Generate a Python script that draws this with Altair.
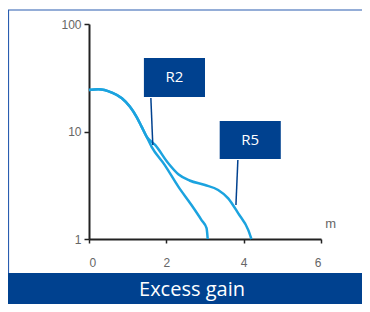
import altair as alt
import pandas as pd

# Curve data (distance m, excess gain)
r2_x = [0.0, 0.24, 0.59, 0.85, 1.06, 1.23, 1.36, 1.49, 1.62, 1.96, 2.31, 2.65, 2.91, 3.04, 3.07]
r2_y = [24.3, 24.7, 23.0, 20.4, 17.0, 13.7, 11.1, 8.95, 7.2, 4.87, 3.07, 2.07, 1.50, 1.26, 1.0]
r5_x = [0.0, 0.24, 0.59, 0.85, 1.06, 1.23, 1.36, 1.49, 1.71, 2.05, 2.31, 2.6, 3.0, 3.34, 3.6, 3.86, 4.12, 4.2]
r5_y = [24.3, 24.7, 23.0, 20.4, 17.0, 13.7, 11.1, 8.95, 7.5, 5.06, 4.0, 3.5, 3.18, 2.86, 2.39, 1.73, 1.21, 1.0]

labels = ["R2", "R5"]
box_x = [1.42, 3.38]
box_x2 = [3.0, 4.96]
box_y = [48.3, 12.5]
box_y2 = [20.9, 5.55]
lbl_x = [2.21, 4.17]
lbl_y = [31.8, 8.34]
lead_x = [1.6, 3.85]
lead_y = [20.5, 5.43]
lead_x2 = [1.65, 3.8]
lead_y2 = [7.5, 2.07]

x_ticks = [0, 2, 4, 6]
y_ticks = [1, 10, 100]
title_text = "Excess gain"
unit_text = "m"

CURVE = "#1ba3df"
DARK = "#00418f"
FRAME = "#2a5db0"

curves = pd.DataFrame(
    {"x": r2_x + r5_x, "y": r2_y + r5_y,
     "s": ["R2"] * len(r2_x) + ["R5"] * len(r5_x)}
)
ann = pd.DataFrame({
    "label": labels, "bx": box_x, "bx2": box_x2, "by": box_y, "by2": box_y2,
    "lx": lbl_x, "ly": lbl_y, "ax": lead_x, "ay": lead_y, "ax2": lead_x2, "ay2": lead_y2,
})

xs = alt.Scale(domain=[0, 6], nice=False, zero=False)
ys = alt.Scale(type="log", domain=[1, 100], nice=False)

xaxis = alt.Axis(values=x_ticks, title=None, grid=False, domainColor="#222", domainWidth=2,
                 tickColor="#222", tickWidth=1.5, tickSize=4, labelFont="Liberation Sans",
                 labelFontSize=12, labelColor="#666666", labelPadding=14, format="d")
yaxis = alt.Axis(values=y_ticks, title=None, grid=False, domainColor="#222", domainWidth=2,
                 tickColor="#222", tickWidth=1.5, tickSize=5, labelFont="Liberation Sans",
                 labelFontSize=12, labelColor="#666666", labelPadding=3, format="d")

lines = alt.Chart(curves).mark_line(interpolate="monotone", color=CURVE, strokeWidth=2.5).encode(
    x=alt.X("x:Q", scale=xs, axis=xaxis),
    y=alt.Y("y:Q", scale=ys, axis=yaxis),
    detail="s:N",
)

boxes = alt.Chart(ann).mark_rect(color=DARK).encode(
    x=alt.X("bx:Q", scale=xs), x2="bx2", y=alt.Y("by:Q", scale=ys), y2="by2"
)
leaders = alt.Chart(ann).mark_rule(color=DARK, strokeWidth=1.5).encode(
    x=alt.X("ax:Q", scale=xs), x2="ax2", y=alt.Y("ay:Q", scale=ys), y2="ay2"
)
box_text = alt.Chart(ann).mark_text(color="white", font="Open Sans", fontSize=15).encode(
    x=alt.X("lx:Q", scale=xs), y=alt.Y("ly:Q", scale=ys), text="label:N"
)
unit = alt.Chart(pd.DataFrame({"x": [6.25], "y": [1.38], "t": [unit_text]})).mark_text(
    color="#666666", font="Liberation Sans", fontSize=13
).encode(x=alt.X("x:Q", scale=xs), y=alt.Y("y:Q", scale=ys), text="t:N")

band = alt.Chart(pd.DataFrame({"a": [0]})).mark_rect(color=DARK).encode(
    x=alt.value(-81), x2=alt.value(273), y=alt.value(249), y2=alt.value(280)
)
band_text = alt.Chart(pd.DataFrame({"t": [title_text]})).mark_text(
    color="white", font="Open Sans", fontSize=20
).encode(x=alt.value(103), y=alt.value(266), text="t:N")
frame_left = alt.Chart(pd.DataFrame({"a": [0]})).mark_rule(color=FRAME, strokeWidth=1.2).encode(
    x=alt.value(-80.5), y=alt.value(-14), y2=alt.value(249)
)
frame_top = alt.Chart(pd.DataFrame({"a": [0]})).mark_rule(color=FRAME, strokeWidth=1.2).encode(
    x=alt.value(-81), x2=alt.value(273), y=alt.value(-14)
)

chart = alt.layer(
    frame_left, frame_top, band, band_text, lines, boxes, leaders, box_text, unit
).properties(
    width=232, height=215,
    padding={"left": 81, "top": 16, "right": 41, "bottom": 65},
    autosize=alt.AutoSizeParams(type="none"),
).configure_view(stroke=None)

chart.save("out.html", embed_options={"renderer": "svg", "actions": False})
